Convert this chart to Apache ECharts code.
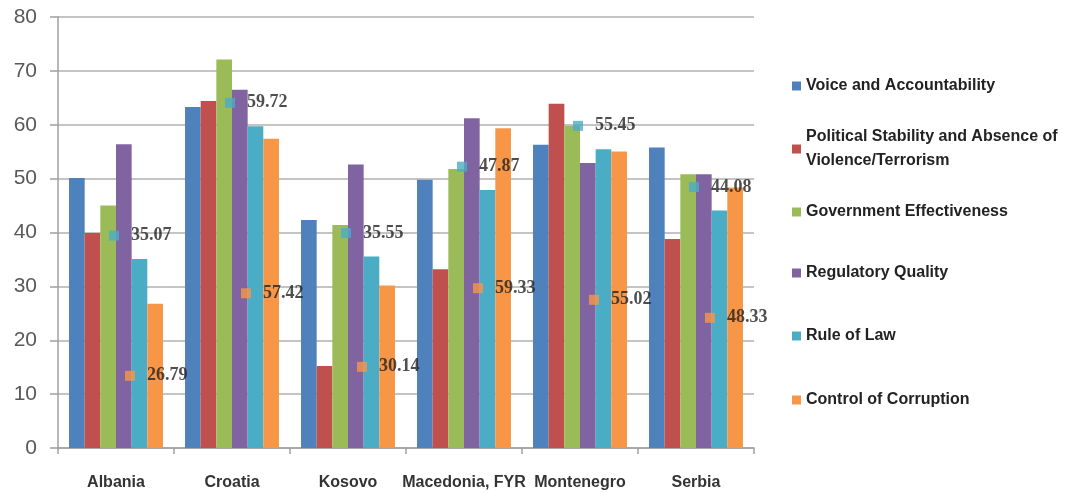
<!DOCTYPE html>
<html>
<head>
<meta charset="utf-8">
<script src="https://cdn.jsdelivr.net/npm/echarts@6/dist/echarts.min.js"></script>
<style>
  html, body { margin: 0; padding: 0; background: #fff; }
  #chart { width: 1073px; height: 493px; }
</style>
</head>
<body>
<div id="chart"></div>
<script>
// chart data
const countries = ['Albania', 'Croatia', 'Kosovo', 'Macedonia, FYR', 'Montenegro', 'Serbia'];
const seriesNames = [
  'Voice and Accountability',
  'Political Stability and Absence of Violence/Terrorism',
  'Government Effectiveness',
  'Regulatory Quality',
  'Rule of Law',
  'Control of Corruption'
];
const voice = [50.1, 63.3, 42.3, 49.8, 56.3, 55.8];
const stability = [39.9, 64.4, 15.2, 33.2, 63.9, 38.8];
const govEff = [45.0, 72.1, 41.4, 51.8, 59.8, 50.8];
const regQuality = [56.4, 66.5, 52.6, 61.2, 52.9, 50.8];
const ruleOfLaw = [35.07, 59.72, 35.55, 47.87, 55.45, 44.08];
const corruption = [26.79, 57.42, 30.14, 59.33, 55.02, 48.33];
const yTicks = [0, 10, 20, 30, 40, 50, 60, 70, 80];

const colors = ['#4F81BD', '#C0504D', '#9BBB59', '#8064A2', '#4BACC6', '#F79646'];
const values = [voice, stability, govEff, regQuality, ruleOfLaw, corruption];

let myChart = echarts.init(document.getElementById('chart'));

// legend entries placed one by one (Excel spacing is uneven)
const legendTops = [77, 113, 203, 264, 327, 391];
const legends = seriesNames.map((name, i) => {
  const twoLine = i === 1;
  return {
    data: [name],
    orient: 'vertical',
    left: 792,
    top: legendTops[i],
    padding: 0,
    icon: 'rect',
    itemWidth: 9,
    itemHeight: 9,
    itemGap: 0,
    formatter: twoLine ? () => 'Political Stability and Absence of\nViolence/Terrorism' : undefined,
    textStyle: {
      fontFamily: 'Liberation Sans',
      fontSize: 16,
      fontWeight: 'bold',
      color: '#222',
      lineHeight: twoLine ? 24 : 18,
      padding: twoLine ? [24, 0, 0, 0] : 0
    }
  };
});

const barSeries = seriesNames.map((name, i) => ({
  name: name,
  type: 'bar',
  data: values[i],
  barGap: '0%',
  barCategoryGap: '19%',
  itemStyle: { color: colors[i] },
  silent: true
}));

const markerLabel = {
  show: true,
  position: 'right',
  distance: 12,
  fontFamily: 'Liberation Serif',
  fontSize: 18,
  fontWeight: 'bold',
  color: '#222',
  formatter: p => p.value.toFixed(2)
};

let option = {
  animation: false,
  legend: legends,
  grid: { left: 58, right: 319, top: 17, bottom: 45 },
  xAxis: {
    type: 'category',
    data: countries,
    boundaryGap: true,
    axisLine: { lineStyle: { color: '#a0a0a0', width: 1.5 } },
    axisTick: { show: true, length: 6, alignWithLabel: false, lineStyle: { color: '#a0a0a0', width: 1.5 } },
    axisLabel: {
      margin: 27,
      interval: 0,
      fontFamily: 'Liberation Sans',
      fontSize: 16,
      fontWeight: 'bold',
      color: '#333'
    }
  },
  yAxis: [
    {
      type: 'value',
      min: yTicks[0],
      max: yTicks[yTicks.length - 1],
      interval: 10,
      axisLine: { show: true, lineStyle: { color: '#a0a0a0', width: 1.5 } },
      axisTick: { show: true, length: 8, lineStyle: { color: '#a0a0a0', width: 1.5 } },
      splitLine: { lineStyle: { color: '#c4c4c4', width: 2 } },
      axisLabel: {
        margin: 21,
        fontFamily: 'Liberation Sans',
        fontSize: 21,
        color: '#595959'
      }
    },
    // secondary scales for the two marker series (hidden)
    { type: 'value', min: -4.35, max: 75.65, show: false, splitLine: { show: false } },
    { type: 'value', min: 0, max: 160, show: false, splitLine: { show: false } }
  ],
  series: barSeries.concat([
    {
      name: 'Rule of Law markers',
      type: 'scatter',
      yAxisIndex: 1,
      data: ruleOfLaw,
      symbol: 'rect',
      symbolSize: 10,
      symbolOffset: [-2, 0],
      itemStyle: { color: colors[4] },
      label: markerLabel,
      silent: true,
      z: 5
    },
    {
      name: 'Control of Corruption markers',
      type: 'scatter',
      yAxisIndex: 2,
      data: corruption,
      symbol: 'rect',
      symbolSize: 10,
      symbolOffset: [14, 0],
      itemStyle: { color: colors[5] },
      label: markerLabel,
      silent: true,
      z: 5
    }
  ])
};

myChart.setOption(option);
window.addEventListener('resize', () => { myChart.resize(); });
</script>
</body>
</html>
